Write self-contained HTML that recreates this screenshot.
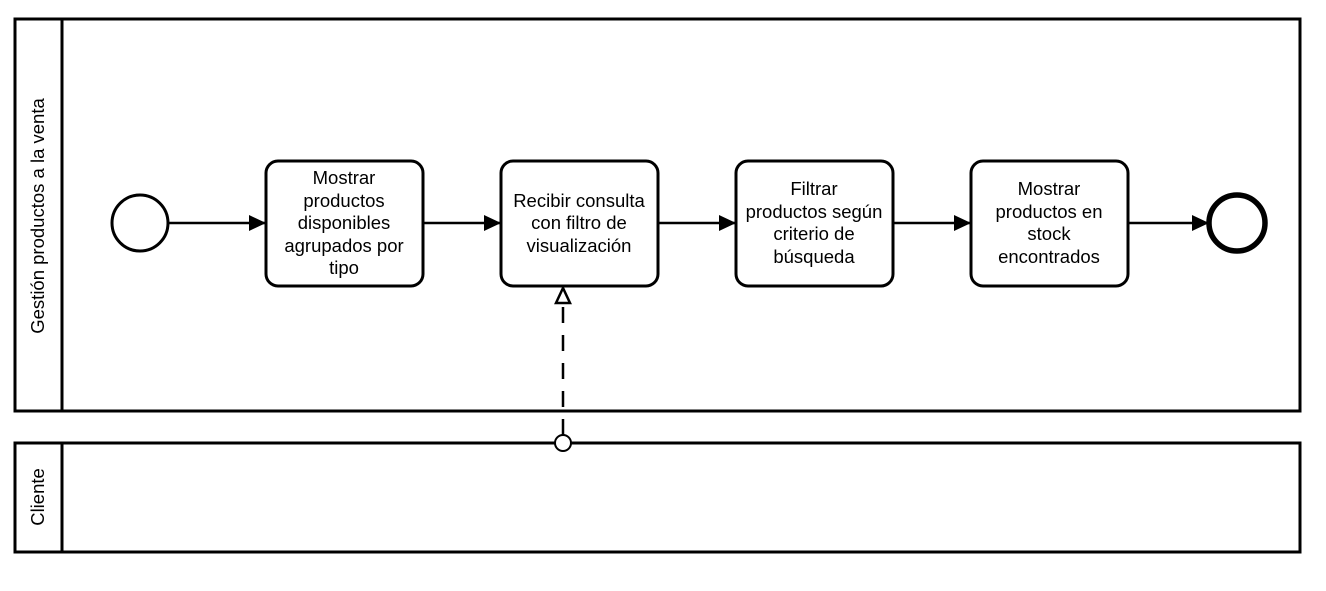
<!DOCTYPE html>
<html><head><meta charset="utf-8"><style>
body{margin:0;background:#fff}
svg text{font-family:"Liberation Sans",sans-serif;font-size:18.5px;fill:#000}
</style></head><body>
<svg width="1326" height="586" viewBox="0 0 1326 586" xmlns="http://www.w3.org/2000/svg">
<defs>
<marker id="a" markerWidth="17" markerHeight="16" refX="16" refY="8" orient="auto" markerUnits="userSpaceOnUse">
<path d="M0,0 L17,8 L0,16 z" fill="#000"/></marker>
</defs>
<g fill="none" stroke="#000" stroke-width="3">
<rect x="15" y="19" width="1285" height="392" fill="#fff"/>
<line x1="62" y1="19" x2="62" y2="411"/>
<rect x="15" y="443" width="1285" height="109" fill="#fff"/>
<line x1="62" y1="443" x2="62" y2="552"/>
</g>
<text transform="translate(44,216) rotate(-90)" text-anchor="middle">Gestión productos a la venta</text>
<text transform="translate(44,497) rotate(-90)" text-anchor="middle">Cliente</text>
<g stroke="#000" stroke-width="2.5" fill="none">
<line x1="168" y1="223" x2="265" y2="223" marker-end="url(#a)"/>
<line x1="423" y1="223" x2="500" y2="223" marker-end="url(#a)"/>
<line x1="658" y1="223" x2="735" y2="223" marker-end="url(#a)"/>
<line x1="893" y1="223" x2="970" y2="223" marker-end="url(#a)"/>
<line x1="1128" y1="223" x2="1208" y2="223" marker-end="url(#a)"/>
<line x1="563" y1="435" x2="563" y2="304" stroke-dasharray="16,12"/>
</g>
<path d="M563,288 L556,303 L570,303 Z" fill="#fff" stroke="#000" stroke-width="2.5"/>
<circle cx="563" cy="443" r="8" fill="#fff" stroke="#000" stroke-width="2"/>
<circle cx="140" cy="223" r="28" fill="#fff" stroke="#000" stroke-width="3"/>
<circle cx="1237" cy="223" r="28" fill="#fff" stroke="#000" stroke-width="5.5"/>
<g fill="#fff" stroke="#000" stroke-width="3">
<rect x="266" y="161" width="157" height="125" rx="12"/>
<rect x="501" y="161" width="157" height="125" rx="12"/>
<rect x="736" y="161" width="157" height="125" rx="12"/>
<rect x="971" y="161" width="157" height="125" rx="12"/>
</g>
<g text-anchor="middle">
<text x="344" y="184">Mostrar</text>
<text x="344" y="207">productos</text>
<text x="344" y="229">disponibles</text>
<text x="344" y="252">agrupados por</text>
<text x="344" y="274">tipo</text>
<text x="579" y="207">Recibir consulta</text>
<text x="579" y="229">con filtro de</text>
<text x="579" y="252">visualización</text>
<text x="814" y="195">Filtrar</text>
<text x="814" y="218">productos según</text>
<text x="814" y="240">criterio de</text>
<text x="814" y="263">búsqueda</text>
<text x="1049" y="195">Mostrar</text>
<text x="1049" y="218">productos en</text>
<text x="1049" y="240">stock</text>
<text x="1049" y="263">encontrados</text>
</g>
</svg>
</body></html>
